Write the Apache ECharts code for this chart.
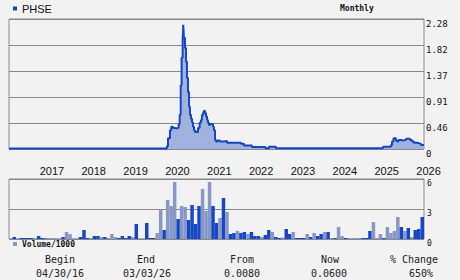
<!DOCTYPE html>
<html><head><meta charset="utf-8">
<script src="https://cdn.jsdelivr.net/npm/echarts@6/dist/echarts.min.js"></script>
<style>html,body{margin:0;padding:0;background:#f2f2f2}#c{width:460px;height:280px}</style>
</head><body><div id="c"></div>
<script>
const symbol = 'PHSE';
const startMonth = [2016, 5];
const monthCount = 119;
const priceTickLabels = ['0', '0.46', '0.91', '1.37', '1.82', '2.28'];
const volTickLabels = ['0', '3', '6'];
const priceDates = ['2016-04-30','2016-10-01','2017-06-01','2018-06-01','2019-06-01','2019-12-01','2020-01-19','2020-01-28','2020-02-06','2020-02-23','2020-03-05','2020-03-20','2020-04-06','2020-04-24','2020-05-08','2020-05-17','2020-05-26','2020-06-03','2020-06-12','2020-06-17','2020-06-23','2020-07-02','2020-07-11','2020-07-19','2020-07-28','2020-08-06','2020-08-14','2020-08-23','2020-09-01','2020-09-09','2020-09-18','2020-09-27','2020-10-14','2020-10-23','2020-11-06','2020-11-18','2020-11-26','2020-12-07','2020-12-14','2020-12-22','2020-12-31','2021-01-09','2021-01-17','2021-01-26','2021-02-04','2021-02-21','2021-03-02','2021-03-10','2021-03-19','2021-03-28','2021-04-10','2021-05-01','2021-06-05','2021-07-01','2021-10-30','2021-11-25','2022-02-02','2022-05-30','2022-06-29','2022-08-29','2023-06-01','2024-06-01','2025-03-13','2025-05-21','2025-05-30','2025-06-12','2025-07-03','2025-07-12','2025-07-25','2025-08-16','2025-09-02','2025-09-28','2025-10-24','2025-11-02','2025-11-19','2025-12-06','2026-01-01','2026-01-19','2026-02-05','2026-03-03'];
const priceValues = [0.008,0.009,0.009,0.010,0.010,0.009,0.012,0.05,0.19,0.33,0.39,0.37,0.36,0.37,0.44,0.60,1.12,1.60,1.91,2.18,1.95,1.77,1.53,1.25,1.00,0.74,0.60,0.53,0.47,0.39,0.33,0.30,0.30,0.37,0.46,0.51,0.60,0.65,0.67,0.63,0.57,0.51,0.46,0.42,0.44,0.44,0.39,0.33,0.16,0.13,0.15,0.13,0.14,0.11,0.09,0.06,0.035,0.012,0.04,0.015,0.015,0.014,0.04,0.07,0.13,0.19,0.15,0.13,0.16,0.15,0.16,0.18,0.18,0.16,0.13,0.11,0.10,0.09,0.07,0.06];
const volume = [0.05,0.2,0.05,0.1,0.1,0.1,0.1,0.05,0.3,0.1,0.05,0.1,0.1,0.05,0.05,0.2,0.7,0.5,0.05,0.05,0.2,0.9,0.1,0.1,0.3,0.3,0.2,0.2,0.1,0.5,0.2,0.1,0.3,0.1,0.3,0.2,1.5,0.05,0.05,1.6,0.1,0.1,0.6,3.0,0.9,3.9,3.3,5.7,2.0,3.3,3.2,1.9,3.4,1.5,3.3,5.0,2.8,5.7,3.3,1.6,2.1,4.1,2.7,0.5,0.6,0.8,0.6,0.7,0.5,0.7,0.3,0.3,0.2,0.4,0.9,0.7,0.2,0.1,0.15,1.0,0.5,0.7,0.1,0.1,0.1,0.5,0.2,0.6,0.3,0.5,0.7,0.7,0.1,0.1,1.2,0.3,0.1,0.1,0.1,0.1,0.1,0.1,0.1,0.8,1.7,0.1,0.5,0.1,1.2,0.6,0.8,2.2,1.2,0.8,1.1,0.2,0.9,1.0,2.2];
const volumeDark = [0,1,0,1,1,1,1,0,1,1,1,0,0,0,0,1,0,0,0,0,1,1,1,0,1,1,0,1,0,0,0,1,1,1,1,0,1,0,0,1,1,1,0,0,1,0,0,0,1,0,0,1,1,1,1,0,0,0,1,1,0,1,0,1,1,0,1,1,0,1,1,1,0,1,1,0,1,1,0,1,1,0,1,1,1,0,1,0,1,1,0,1,0,1,0,0,1,0,0,0,0,1,1,1,0,0,0,1,0,0,0,0,1,0,1,0,1,1,1];
const statLabels = ['Begin', 'End', 'From', 'Now', '% Change'];
const statValues = ['04/30/16', '03/03/26', '0.0080', '0.0600', '650%'];

const months = [];
for (let k = 0; k < monthCount; k++) {
  const m0 = startMonth[1] - 1 + k;
  const y = startMonth[0] + Math.floor(m0 / 12);
  const m = (m0 % 12) + 1;
  months.push(y + '-' + (m < 10 ? '0' + m : '' + m));
}

const DARK = '#1446c8', LIGHT = '#8797c6', AREA = '#a1b2de', GRIDC = '#888888';
const mono = '"DejaVu Sans Mono", "Liberation Mono", monospace';
const sans = '"Liberation Sans", Arial, sans-serif';

const chart = echarts.init(document.getElementById('c'), null, {renderer: 'svg'});
const statX = [60, 146, 242, 330, 414];
const statVX = [60, 147, 242, 329, 421];
const graphics = [{
  type: 'text', left: 340, top: 4,
  style: {text: 'Monthly', font: 'bold 8px ' + mono, fill: '#111'}
}];
statLabels.forEach((t, i) => {
  graphics.push({type: 'text', x: statX[i], y: 259, style: {text: t, font: '10px ' + mono, fill: '#222', textAlign: 'center', textVerticalAlign: 'middle'}});
  graphics.push({type: 'text', x: statVX[i], y: 273, style: {text: statValues[i], font: '10px ' + mono, fill: '#222', textAlign: 'center', textVerticalAlign: 'middle'}});
});

chart.setOption({
  backgroundColor: '#f2f2f2',
  animation: false,
  legend: [
    {data: [symbol], left: 13, top: 3, padding: 0, icon: 'rect', itemWidth: 4, itemHeight: 4,
     textStyle: {fontFamily: sans, fontSize: 11, color: '#111'}},
    {data: ['Volume/1000'], left: 13, top: 240, padding: 0, icon: 'rect', itemWidth: 4, itemHeight: 4,
     textStyle: {fontFamily: mono, fontSize: 8, fontWeight: 'bold', color: '#111'}}
  ],
  graphic: graphics,
  grid: [
    {left: 9, top: 19, width: 415, height: 130, show: true, borderColor: GRIDC, borderWidth: 1},
    {left: 9, top: 179, width: 415, height: 60, show: true, borderColor: GRIDC, borderWidth: 1}
  ],
  xAxis: [
    {type: 'time', gridIndex: 0, min: priceDates[0], max: priceDates[priceDates.length - 1],
     axisLine: {show: false}, axisTick: {show: false}, axisLabel: {show: false}, splitLine: {show: false}},
    {type: 'category', gridIndex: 1, data: months, position: 'top', boundaryGap: true,
     axisLine: {show: false}, axisTick: {show: false}, splitLine: {show: false},
     axisLabel: {show: true, margin: 3, align: 'left', padding: [0, 0, 0, 1],
       fontFamily: sans, fontSize: 11, color: '#111',
       interval: (idx, val) => val.slice(5) === '01',
       formatter: v => v.slice(0, 4)}}
  ],
  yAxis: [
    {type: 'value', gridIndex: 0, position: 'right', min: 0, max: 2.28, interval: 0.456,
     axisLine: {show: false}, axisTick: {show: false},
     splitLine: {show: true, lineStyle: {color: GRIDC, width: 1}},
     axisLabel: {margin: 2, verticalAlign: 'top', fontFamily: mono, fontSize: 9, color: '#111',
       showMinLabel: true, showMaxLabel: true,
       formatter: v => priceTickLabels[Math.round(v / 0.456)]}},
    {type: 'value', gridIndex: 1, position: 'right', min: 0, max: 6, interval: 3,
     axisLine: {show: false}, axisTick: {show: false},
     splitLine: {show: true, lineStyle: {color: GRIDC, width: 1}},
     axisLabel: {margin: 3, verticalAlign: 'top', fontFamily: mono, fontSize: 8, color: '#111',
       showMinLabel: true, showMaxLabel: true,
       formatter: v => volTickLabels[Math.round(v / 3)]}}
  ],
  series: [
    {name: symbol, type: 'line', xAxisIndex: 0, yAxisIndex: 0, step: 'end', showSymbol: false,
     data: priceDates.map((d, i) => [d, priceValues[i]]),
     itemStyle: {color: DARK},
     lineStyle: {color: DARK, width: 2},
     areaStyle: {color: AREA, opacity: 1}},
    {name: 'Volume/1000', type: 'bar', xAxisIndex: 1, yAxisIndex: 1, barCategoryGap: '0%',
     itemStyle: {color: LIGHT},
     data: volume.map((v, i) => ({value: v, itemStyle: {color: volumeDark[i] ? DARK : LIGHT}}))}
  ]
});
chart.getZr().refreshImmediately();
</script></body></html>
